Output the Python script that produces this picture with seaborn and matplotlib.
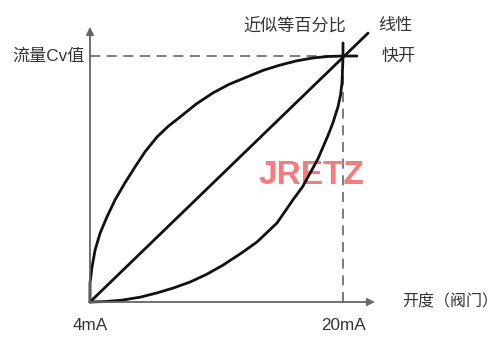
import matplotlib
matplotlib.use("Agg")
import matplotlib.pyplot as plt
import seaborn as sns
import pandas as pd

# ---- data (normalized: opening 0..1 from 4mA to 20mA, flow 0..1 up to Cv) ----
quick_open_x = [0, 0.0, 0.008, 0.020, 0.040, 0.067, 0.099, 0.138, 0.178, 0.217, 0.265,
                0.31, 0.356, 0.42, 0.486, 0.55, 0.621, 0.685, 0.751, 0.815, 0.881,
                0.94, 1.0, 1.055]
quick_open_y = [0, 0.077, 0.142, 0.211, 0.280, 0.346, 0.415, 0.484, 0.549, 0.610, 0.671,
                0.715, 0.752, 0.805, 0.850, 0.885, 0.915, 0.942, 0.963, 0.980, 0.992,
                0.998, 1.0, 1.0]

linear_x = [0, 1.099]
linear_y = [0, 1.093]

equal_pct_x = [0, 0.065, 0.130, 0.200, 0.265, 0.330, 0.395, 0.460, 0.526, 0.600, 0.660,
               0.739, 0.802, 0.840, 0.870, 0.900, 0.921, 0.942, 0.960, 0.980, 0.990,
               0.996, 1.0, 1.0]
equal_pct_y = [0, 0.002, 0.008, 0.020, 0.037, 0.057, 0.081, 0.112, 0.150, 0.200, 0.244,
               0.321, 0.415, 0.468, 0.524, 0.580, 0.630, 0.680, 0.728, 0.793, 0.840,
               0.890, 0.996, 1.053]

curve_names = ["快开", "线性", "近似等百分比"]
x_tick_labels = ["4mA", "20mA"]
y_label = "流量Cv值"
x_label = "开度（阀门）"
watermark = "JRETZ"

sns.set_theme(style="white")
plt.rcParams["font.family"] = ["Noto Sans CJK SC", "DejaVu Sans"]

fig = plt.figure(figsize=(5.0, 3.37), dpi=100)
ax = fig.add_axes([0, 0, 1, 1])
ax.set_xlim(-90 / 253, 410 / 253)
ax.set_ylim(-35 / 246, 302 / 246)
ax.axis("off")

df = pd.concat([
    pd.DataFrame({"x": quick_open_x, "y": quick_open_y, "curve": curve_names[0]}),
    pd.DataFrame({"x": linear_x, "y": linear_y, "curve": curve_names[1]}),
    pd.DataFrame({"x": equal_pct_x, "y": equal_pct_y, "curve": curve_names[2]}),
])
for name in curve_names:
    sub = df[df["curve"] == name]
    line = sns.lineplot(data=sub, x="x", y="y", sort=False, estimator=None, ax=ax,
                        color="#111111", lw=2.0, legend=False, zorder=3)
for ln in ax.get_lines():
    ln.set_solid_joinstyle("round")
    ln.set_solid_capstyle("round")

axis_col = "#666666"
# axes with arrows
ax.annotate("", xy=(0, 1.118), xytext=(0, 0),
            arrowprops=dict(arrowstyle="-|>", color=axis_col, lw=1.3, mutation_scale=11,
                            shrinkA=0, shrinkB=0))
ax.annotate("", xy=(1.126, 0), xytext=(0, 0),
            arrowprops=dict(arrowstyle="-|>", color=axis_col, lw=1.3, mutation_scale=11,
                            shrinkA=0, shrinkB=0))
# dashed reference lines
ax.plot([0, 1.0], [1, 1], ls=(0, (6, 4)), color=axis_col, lw=1.2, zorder=2)
ax.plot([1, 1], [0, 1], ls=(0, (6, 4)), color=axis_col, lw=1.2, zorder=2)

tc = "#333333"
fs = 12.3
ax.text(-5 / 253, 1.0, y_label, ha="right", va="center", fontsize=fs, color=tc,
        family=["Liberation Sans", "Noto Sans CJK SC"])
ax.text(0, -24 / 246, x_tick_labels[0], ha="center", va="center", fontsize=fs, color=tc,
        family=["Liberation Sans"])
ax.text(1, -24 / 246, x_tick_labels[1], ha="center", va="center", fontsize=fs, color=tc,
        family=["Liberation Sans"])
ax.text(312 / 253, 0, x_label, ha="left", va="center", fontsize=fs - 0.8, color=tc)
ax.text(205 / 253, 275 / 246, curve_names[2], ha="center", va="center", fontsize=fs, color=tc)
ax.text(305 / 253, 277 / 246, curve_names[1], ha="center", va="center", fontsize=fs, color=tc)
ax.text(309 / 253, 246 / 246, curve_names[0], ha="center", va="center", fontsize=fs, color=tc)

ax.text(221 / 253, 126 / 246, watermark, ha="center", va="center", fontsize=24,
        fontweight="bold", color="#f47c7c", family=["Liberation Sans"], zorder=2)

fig.savefig("out.png", dpi=100)
